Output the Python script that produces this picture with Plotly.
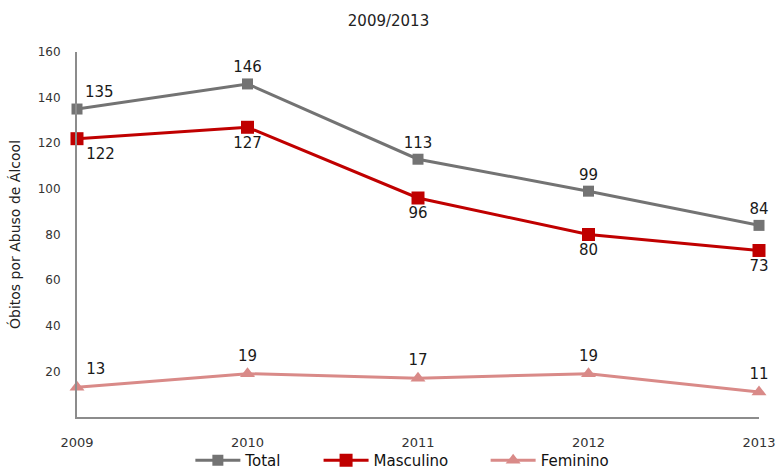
import plotly.graph_objects as go

years = [2009, 2010, 2011, 2012, 2013]
total = [135, 146, 113, 99, 84]
masculino = [122, 127, 96, 80, 73]
feminino = [13, 19, 17, 19, 11]
y_ticks = [20, 40, 60, 80, 100, 120, 140, 160]

label_font = dict(family="DejaVu Sans", size=15, color="#1a1a1a")

fig = go.Figure()

series = [
    ("Total", total, "#737373", "square", 11, ["top right"] + ["top center"] * 4, "legend", 0.245),
    ("Masculino", masculino, "#C00000", "square", 13, ["bottom right"] + ["bottom center"] * 4, "legend2", 0.41),
    ("Feminino", feminino, "#D98A88", "triangle-up", 13, ["top right"] + ["top center"] * 4, "legend3", 0.625),
]

legend_font = dict(family="DejaVu Sans", size=15, color="#111111")
legends = {}
for name, vals, color, sym, msize, tpos, leg, lx in series:
    fig.add_trace(go.Scatter(
        x=years, y=vals, name=name,
        mode="lines+markers+text",
        line=dict(color=color, width=3),
        marker=dict(symbol=sym, size=msize, color=color),
        text=[str(v) for v in vals],
        textposition=tpos,
        textfont=label_font,
        cliponaxis=False,
        legend=leg,
    ))
    legends[leg] = dict(orientation="h", x=lx, xanchor="left", xref="container",
                        y=0.02, yanchor="middle", yref="container", itemwidth=45,
                        font=legend_font, bgcolor="rgba(0,0,0,0)")

fig.update_layout(
    width=777, height=470,
    margin=dict(l=77, r=18, t=52, b=53),
    paper_bgcolor="white", plot_bgcolor="white",
    title=dict(text="2009/2013", x=0.5, xanchor="center", y=0.955, yanchor="middle",
               font=dict(family="DejaVu Sans", size=15, color="#222222")),
    showlegend=True,
    xaxis=dict(range=[2009, 2013], tickvals=years, ticktext=[str(y) for y in years],
               showgrid=False, zeroline=False, showline=True, linecolor="#8c8c8c", linewidth=2,
               ticks="", tickfont=dict(family="DejaVu Sans", size=13, color="#333333"),
               ticklabelstandoff=12, automargin=False),
    yaxis=dict(range=[0, 160], tickvals=y_ticks, showgrid=False, zeroline=False,
               showline=True, linecolor="#8c8c8c", linewidth=2, ticks="",
               tickfont=dict(family="DejaVu Sans", size=12, color="#333333"),
               ticklabelstandoff=12, automargin=False,
               title=dict(text="Óbitos por Abuso de Álcool",
                          font=dict(family="DejaVu Sans", size=14, color="#222222"),
                          standoff=14)),
    **legends,
)

fig.write_html("out.html", config={"displayModeBar": False},
               post_script="document.body.style.margin='0';")
